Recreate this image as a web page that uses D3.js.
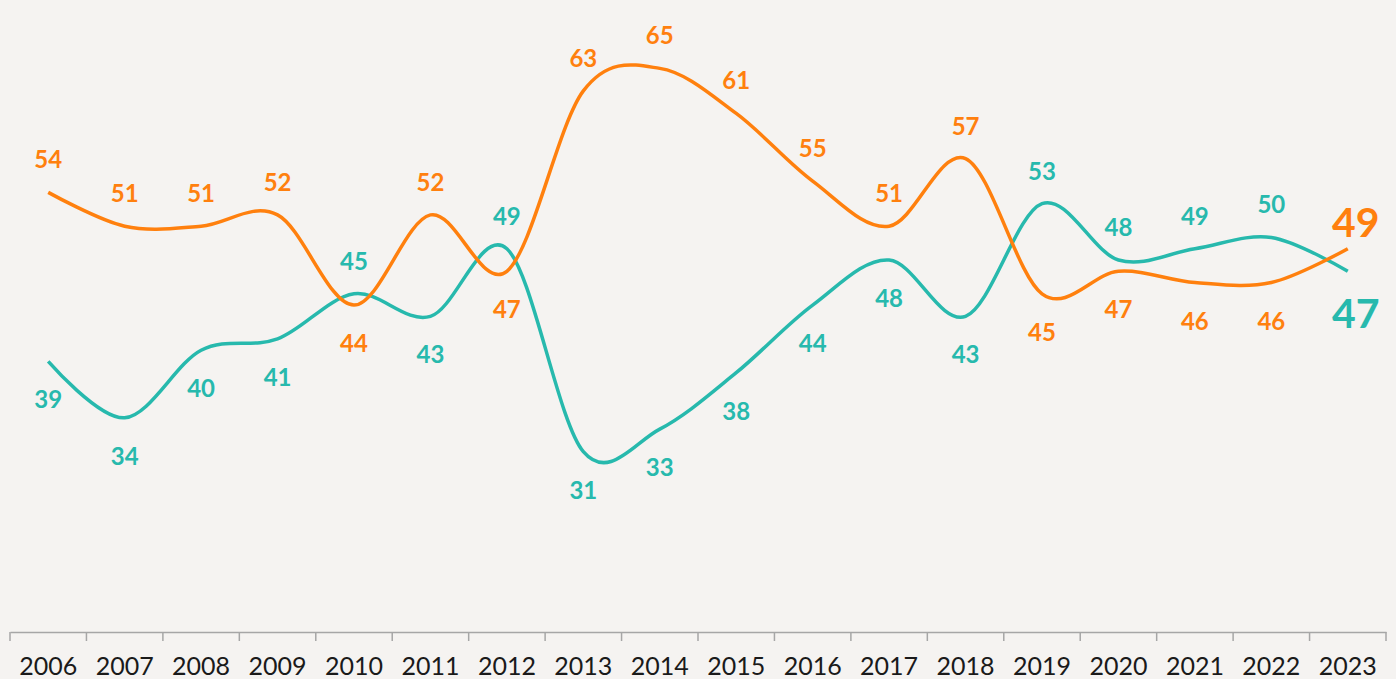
<!DOCTYPE html>
<html>
<head>
<meta charset="utf-8">
<script src="https://cdn.jsdelivr.net/npm/d3@7"></script>
<style>
  body { margin: 0; background: #f5f3f1; }
  svg { display: block; }
</style>
</head>
<body>
<div id="chart"></div>
<script>
var w = 1396;
var h = 679;

var years = ["2006", "2007", "2008", "2009", "2010", "2011", "2012", "2013", "2014",
    "2015", "2016", "2017", "2018", "2019", "2020", "2021", "2022", "2023"];
var orange = [54, 51, 51, 52, 44, 52, 47, 63, 65, 61, 55, 51, 57, 45, 47, 46, 46, 49];
var teal = [39, 34, 40, 41, 45, 43, 49, 31, 33, 38, 44, 48, 43, 53, 48, 49, 50, 47];

var orangeColor = "#ff800e";
var tealColor = "#27b9ad";

var svg = d3.select("#chart")
    .append("svg")
    .attr("width", w)
    .attr("height", h);

svg.append("rect")
    .attr("width", w)
    .attr("height", h)
    .attr("fill", "#f5f3f1");

var xScale = d3.scaleBand().domain(years).range([10, 1386]);
var yScale = d3.scaleLinear().domain([15, 70]).range([632, 12]);

function cx(i) {
    return xScale(years[i]) + xScale.bandwidth() / 2;
}

// axis
var xAxis = d3.axisBottom(xScale).tickSize(0).tickPadding(0);
var gx = svg.append("g")
    .attr("transform", "translate(0,632)")
    .call(xAxis);
gx.select(".domain").attr("stroke", "#a6a6a6").attr("stroke-width", 1.5);
gx.selectAll("text")
    .attr("y", 43)
    .attr("dy", 0)
    .attr("font-family", "Lato, 'Noto Sans', sans-serif")
    .attr("font-size", "25px")
    .attr("fill", "#1a1a1a");

// ticks at band boundaries
var bounds = years.map(function (d) { return xScale(d); }).concat([xScale.range()[1]]);
gx.selectAll("line.bound")
    .data(bounds)
    .enter()
    .append("line")
    .attr("class", "bound")
    .attr("x1", function (d) { return d; })
    .attr("x2", function (d) { return d; })
    .attr("y1", 0)
    .attr("y2", 9)
    .attr("stroke", "#a6a6a6")
    .attr("stroke-width", 1.5);

var line = d3.line()
    .x(function (d, i) { return cx(i); })
    .y(function (d) { return yScale(d); })
    .curve(d3.curveCardinal.tension(0));

svg.append("path")
    .datum(teal)
    .attr("d", line)
    .attr("fill", "none")
    .attr("stroke", tealColor)
    .attr("stroke-width", 3.5);

svg.append("path")
    .datum(orange)
    .attr("d", line)
    .attr("fill", "none")
    .attr("stroke", orangeColor)
    .attr("stroke-width", 3.5);

// labels: higher series above, lower series below
function addLabels(values, other, color) {
    var last = values.length - 1;
    svg.append("g").selectAll("text")
        .data(values)
        .enter()
        .append("text")
        .text(function (d) { return d; })
        .attr("x", function (d, i) { return i === last ? cx(i) + 8 : cx(i); })
        .attr("y", function (d, i) {
            var above = d > other[i];
            if (i === last) {
                return above ? yScale(d) - 12 : yScale(d) + 57;
            }
            return above ? yScale(d) - 24 : yScale(d) + 47;
        })
        .attr("text-anchor", "middle")
        .attr("font-family", "Lato, 'Noto Sans', sans-serif")
        .attr("font-weight", "bold")
        .attr("font-size", function (d, i) { return i === last ? "41px" : "24px"; })
        .attr("fill", color);
}

addLabels(orange, teal, orangeColor);
addLabels(teal, orange, tealColor);
</script>
</body>
</html>
